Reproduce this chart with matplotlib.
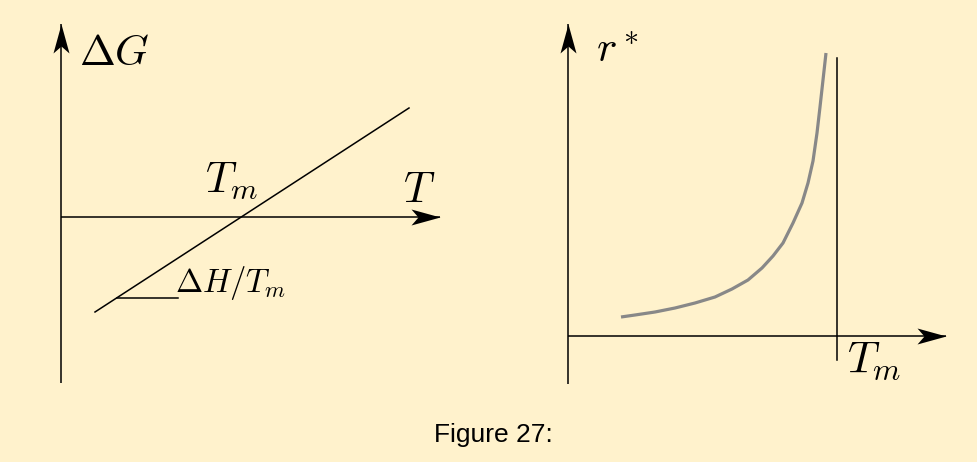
import numpy as np
import matplotlib
matplotlib.use("Agg")
import matplotlib.pyplot as plt
from matplotlib.path import Path

plt.rcParams['mathtext.fontset'] = 'cm'

# -----------------------------------------
# 1. Schematic data (pixel coordinates of the figure)
# -----------------------------------------
# left panel: Delta G vs T, straight line crossing at T_m
dg_line_x = [95, 409]
dg_line_y = [312, 108]
slope_x = [117, 178]
slope_y = [298, 298]

# right panel: critical radius r* diverging towards T_m
r_curve_x = [621, 635, 655, 675, 695, 715, 732, 748, 762, 773, 783, 793,
             802, 808, 813, 817, 820, 823, 826]
r_curve_y = [317, 315, 312, 308, 303, 297, 289, 280, 268, 256, 243, 223,
             203, 183, 161, 133, 107, 80, 53]
tm_line_x = [837, 837]
tm_line_y = [58, 360]

bg = '#FFF2CC'

# -----------------------------------------
# 2. Figure in pixel space
# -----------------------------------------
fig = plt.figure(figsize=(9.78, 4.62), dpi=100, facecolor=bg)
ax = fig.add_axes([0, 0, 1, 1])
ax.set_xlim(0, 978)
ax.set_ylim(462, 0)
ax.set_facecolor(bg)
ax.axis('off')

# stealth style arrow heads as custom markers (tip at origin)
head_right = Path([(0, 0), (-29, 8), (-22, 0), (-29, -8), (0, 0)],
                  [Path.MOVETO, Path.LINETO, Path.LINETO, Path.LINETO, Path.CLOSEPOLY])
head_up = Path([(0, 0), (8, -29), (0, -22), (-8, -29), (0, 0)],
               [Path.MOVETO, Path.LINETO, Path.LINETO, Path.LINETO, Path.CLOSEPOLY])
ms = 58 * 72 / 100


def axis_arrow(x, y, head):
    ax.plot(x, y, color='black', lw=1.1, solid_capstyle='butt')
    ax.plot(x[-1], y[-1], marker=head, ms=ms, color='black', mew=0)


# left panel axes
axis_arrow([61, 61], [383, 24], head_up)
axis_arrow([61, 440], [217, 217], head_right)
ax.plot(dg_line_x, dg_line_y, color='black', lw=1.1)
ax.plot(slope_x, slope_y, color='black', lw=1.1)

ax.text(79, 65, r'$\Delta G$', fontsize=31, ha='left', va='baseline')
ax.text(403, 202, r'$T$', fontsize=31, ha='left', va='baseline')
ax.text(205, 193, r'$T_m$', fontsize=31, ha='left', va='baseline')
ax.text(175, 292, r'$\Delta H/T_m$', fontsize=23.5, ha='left', va='baseline')

# right panel axes
axis_arrow([568, 568], [384, 24], head_up)
axis_arrow([568, 946], [336, 336], head_right)
ax.plot(tm_line_x, tm_line_y, color='black', lw=1.1)
ax.plot(r_curve_x, r_curve_y, color='#888888', lw=2.3,
        solid_capstyle='butt', solid_joinstyle='round')

ax.text(596, 62, r'$r^*$', fontsize=31, ha='left', va='baseline')
ax.text(847, 372, r'$T_m$', fontsize=32, ha='left', va='baseline')

# caption
ax.text(493, 442, 'Figure 27:', fontsize=19, family='Liberation Sans',
        ha='center', va='baseline')

fig.savefig('out.png', dpi=100, facecolor=bg)
